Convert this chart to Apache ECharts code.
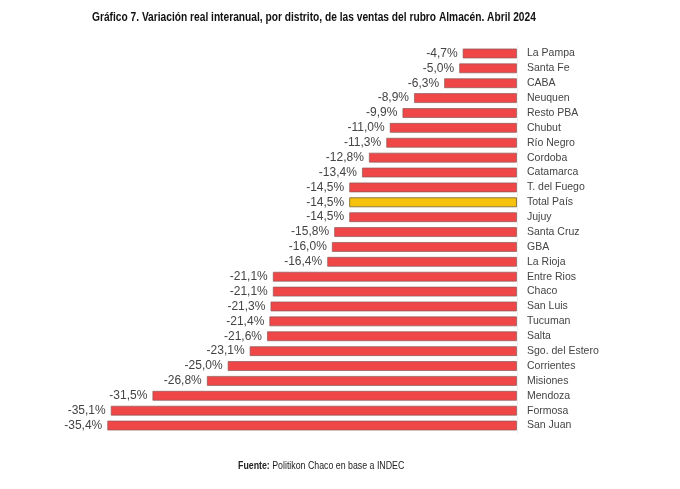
<!DOCTYPE html>
<html>
<head>
<meta charset="utf-8">
<script src="https://cdn.jsdelivr.net/npm/echarts@6/dist/echarts.min.js"></script>
<style>
  html, body { margin: 0; padding: 0; background: #fff; }
  #chart { width: 680px; height: 489px; }
</style>
</head>
<body>
<div id="chart"></div>
<script>
// distritos, de arriba hacia abajo
var distritos = ['La Pampa', 'Santa Fe', 'CABA', 'Neuquen', 'Resto PBA', 'Chubut', 'Río Negro',
    'Cordoba', 'Catamarca', 'T. del Fuego', 'Total País', 'Jujuy', 'Santa Cruz', 'GBA', 'La Rioja',
    'Entre Rios', 'Chaco', 'San Luis', 'Tucuman', 'Salta', 'Sgo. del Estero', 'Corrientes',
    'Misiones', 'Mendoza', 'Formosa', 'San Juan'];
// variación real interanual (%)
var variacion = [-4.7, -5.0, -6.3, -8.9, -9.9, -11.0, -11.3, -12.8, -13.4, -14.5, -14.5, -14.5,
    -15.8, -16.0, -16.4, -21.1, -21.1, -21.3, -21.4, -21.6, -23.1, -25.0, -26.8, -31.5, -35.1, -35.4];
var totalNombre = 'Total País';

var fuente = '"Liberation Sans Narrow", "Liberation Sans", sans-serif';
var myChart = echarts.init(document.getElementById('chart'));

var datos = variacion.map(function (v, i) {
    var esTotal = distritos[i] === totalNombre;
    return {
        value: v,
        itemStyle: {
            color: esTotal ? '#F7C20B' : '#EF4747',
            borderColor: esTotal ? '#8a7a40' : 'rgba(140,90,90,0.7)'
        }
    };
});

myChart.setOption({
    animation: false,
    textStyle: { fontFamily: fuente },
    graphic: [{
        // título (texto angosto, como en el original)
        type: 'text', x: 92, y: 18, scaleX: 0.85,
        style: {
            text: 'Gráfico 7. Variación real interanual, por distrito, de las ventas del rubro Almacén. Abril 2024',
            font: 'bold 12px ' + fuente, fill: '#111', verticalAlign: 'middle'
        }
    }, {
        // fuente
        type: 'text', x: 238, y: 466, scaleX: 0.88,
        style: {
            text: '{b|Fuente:} Politikon Chaco en base a INDEC',
            font: '10px ' + fuente, fill: '#222', verticalAlign: 'middle',
            rich: { b: { fontWeight: 'bold', fontSize: 10, fill: '#222', fontFamily: fuente } }
        }
    }],
    grid: { left: 54, right: 163, top: 46, bottom: 56 },
    xAxis: {
        type: 'value', min: -40, max: 0,
        show: false
    },
    yAxis: {
        type: 'category', data: distritos, inverse: true, position: 'right',
        axisLine: { show: true, lineStyle: { color: '#eeeeee', width: 1 } },
        axisTick: { show: false },
        axisLabel: { margin: 10, interval: 0, fontSize: 10.5, color: '#444', fontFamily: fuente }
    },
    series: [{
        type: 'bar',
        data: datos,
        barWidth: 10,
        itemStyle: { borderWidth: 1 },
        label: {
            show: true, position: 'left', distance: 5,
            fontSize: 12, color: '#444', fontFamily: fuente,
            formatter: function (p) { return p.value.toFixed(1).replace('.', ',') + '%'; }
        }
    }]
});
</script>
</body>
</html>
